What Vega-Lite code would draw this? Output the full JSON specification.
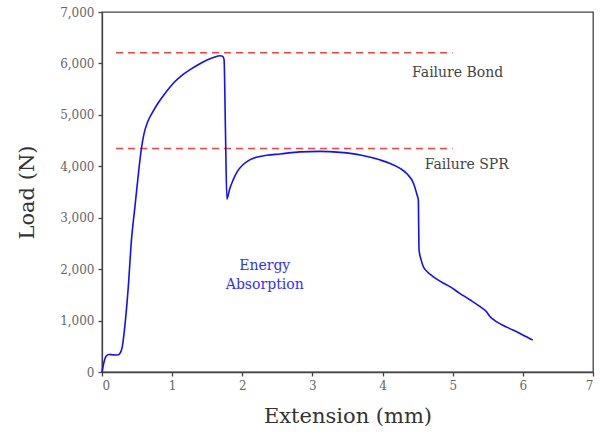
{
  "$schema": "https://vega.github.io/schema/vega-lite/v6.json",
  "width": 491,
  "height": 360,
  "autosize": {"type": "none"},
  "padding": {"left": 102, "top": 12, "right": 7, "bottom": 63},
  "background": "white",
  "config": {
    "view": {"stroke": "#444", "strokeWidth": 1.3},
    "font": "DejaVu Serif",
    "axis": {
      "domainColor": "#444",
      "domainWidth": 1.3,
      "tickColor": "#444",
      "tickWidth": 1.3,
      "tickSize": 4,
      "grid": false,
      "labelFont": "DejaVu Serif",
      "labelFontSize": 12,
      "labelColor": "#666",
      "titleFont": "DejaVu Serif",
      "titleFontSize": 21,
      "titleFontWeight": "normal",
      "titleColor": "#333"
    }
  },
  "datasets": {
    "curve": [
      {"x": 0, "y": 0}, {"x": 0.03, "y": 200}, {"x": 0.06, "y": 310}, {"x": 0.1, "y": 340},
      {"x": 0.15, "y": 335}, {"x": 0.22, "y": 330}, {"x": 0.26, "y": 370}, {"x": 0.29, "y": 500},
      {"x": 0.33, "y": 950}, {"x": 0.375, "y": 1660}, {"x": 0.42, "y": 2570}, {"x": 0.47, "y": 3220},
      {"x": 0.52, "y": 3870}, {"x": 0.56, "y": 4330}, {"x": 0.6, "y": 4640}, {"x": 0.65, "y": 4860},
      {"x": 0.72, "y": 5050}, {"x": 0.8, "y": 5230}, {"x": 0.9, "y": 5420}, {"x": 1.02, "y": 5620},
      {"x": 1.13, "y": 5760}, {"x": 1.25, "y": 5875}, {"x": 1.37, "y": 5975}, {"x": 1.49, "y": 6060},
      {"x": 1.6, "y": 6120}, {"x": 1.68, "y": 6150}, {"x": 1.72, "y": 6140}, {"x": 1.74, "y": 6080},
      {"x": 1.76, "y": 4700}, {"x": 1.78, "y": 3360}, {"x": 1.82, "y": 3560}, {"x": 1.87, "y": 3735},
      {"x": 1.93, "y": 3900}, {"x": 2.01, "y": 4030}, {"x": 2.1, "y": 4120}, {"x": 2.2, "y": 4175},
      {"x": 2.35, "y": 4215}, {"x": 2.54, "y": 4240}, {"x": 2.82, "y": 4280}, {"x": 3.1, "y": 4290},
      {"x": 3.4, "y": 4270}, {"x": 3.7, "y": 4215}, {"x": 3.96, "y": 4125}, {"x": 4.1, "y": 4060},
      {"x": 4.25, "y": 3960}, {"x": 4.35, "y": 3850}, {"x": 4.44, "y": 3670}, {"x": 4.49, "y": 3450},
      {"x": 4.51, "y": 3345}, {"x": 4.515, "y": 2800}, {"x": 4.52, "y": 2375}, {"x": 4.55, "y": 2180},
      {"x": 4.58, "y": 2050}, {"x": 4.63, "y": 1960}, {"x": 4.72, "y": 1855}, {"x": 4.84, "y": 1750},
      {"x": 4.96, "y": 1660}, {"x": 5.1, "y": 1530}, {"x": 5.25, "y": 1400}, {"x": 5.38, "y": 1280},
      {"x": 5.48, "y": 1175}, {"x": 5.53, "y": 1080}, {"x": 5.6, "y": 1000}, {"x": 5.7, "y": 920},
      {"x": 5.86, "y": 815}, {"x": 6.0, "y": 720}, {"x": 6.14, "y": 620}
    ],
    "limits": [
      {"g": "Failure Bond", "x": 0.2, "y": 6210}, {"g": "Failure Bond", "x": 5.0, "y": 6210},
      {"g": "Failure SPR", "x": 0.2, "y": 4345}, {"g": "Failure SPR", "x": 5.0, "y": 4345}
    ],
    "labels": [
      {"kind": "failure", "text": "Failure Bond", "x": 5.07, "y": 5817},
      {"kind": "failure", "text": "Failure SPR", "x": 5.2, "y": 4027},
      {"kind": "energy", "text": "Energy", "x": 2.32, "y": 2060},
      {"kind": "energy", "text": "Absorption", "x": 2.32, "y": 1690}
    ]
  },
  "layer": [
    {
      "data": {"name": "limits"},
      "mark": {"type": "line", "color": "#ff4040", "strokeWidth": 1.5, "strokeDash": [7, 5]},
      "encoding": {
        "x": {
          "field": "x", "type": "quantitative",
          "scale": {"domain": [0, 7], "nice": false},
          "axis": {
            "title": "Extension (mm)",
            "values": [0, 0.5, 1, 1.5, 2, 2.5, 3, 3.5, 4, 4.5, 5, 5.5, 6, 6.5, 7],
            "labelExpr": "datum.value % 1 === 0 ? format(datum.value, 'd') : ''",
            "labelPadding": 4,
            "titlePadding": 14
          }
        },
        "y": {
          "field": "y", "type": "quantitative",
          "scale": {"domain": [0, 7000], "nice": false},
          "axis": {
            "title": "Load (N)",
            "values": [0, 500, 1000, 1500, 2000, 2500, 3000, 3500, 4000, 4500, 5000, 5500, 6000, 6500, 7000],
            "labelExpr": "datum.value % 1000 === 0 ? format(datum.value, ',d') : ''",
            "labelPadding": 4,
            "titlePadding": 22
          }
        },
        "detail": {"field": "g"}
      }
    },
    {
      "data": {"name": "curve"},
      "mark": {"type": "line", "color": "#1010ff", "strokeWidth": 1.6, "interpolate": "monotone"},
      "encoding": {
        "x": {"field": "x", "type": "quantitative"},
        "y": {"field": "y", "type": "quantitative"}
      }
    },
    {
      "data": {"name": "labels"},
      "transform": [{"filter": "datum.kind === 'failure'"}],
      "mark": {"type": "text", "color": "#444", "fontSize": 14, "font": "DejaVu Serif"},
      "encoding": {
        "x": {"field": "x", "type": "quantitative"},
        "y": {"field": "y", "type": "quantitative"},
        "text": {"field": "text"}
      }
    },
    {
      "data": {"name": "labels"},
      "transform": [{"filter": "datum.kind === 'energy'"}],
      "mark": {"type": "text", "color": "#3030ff", "fontSize": 14, "font": "DejaVu Serif"},
      "encoding": {
        "x": {"field": "x", "type": "quantitative"},
        "y": {"field": "y", "type": "quantitative"},
        "text": {"field": "text"}
      }
    }
  ]
}
